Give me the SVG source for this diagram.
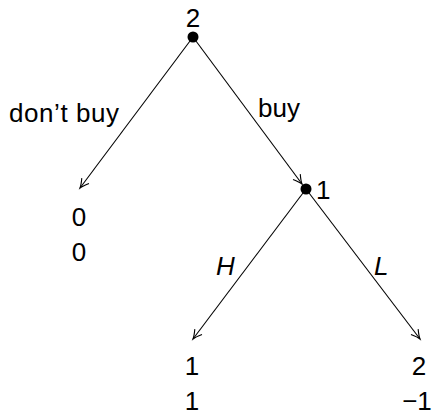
<svg xmlns="http://www.w3.org/2000/svg" width="437" height="415" viewBox="0 0 437 415">
<defs>
<style>
text{font-family:"Liberation Sans",Arial,sans-serif;font-size:26px;fill:#000}
.it{font-style:italic}
.e{stroke:#000;stroke-width:1.1;fill:none;marker-end:url(#ah)}
</style>
<marker id="ah" markerUnits="userSpaceOnUse" markerWidth="20" markerHeight="20" viewBox="-10 -10 20 20" refX="0" refY="0" orient="auto">
<path d="M-9,-4.5 Q-3,-0.8 0,0 Q-3,0.8 -9,4.5" fill="none" stroke="#000" stroke-width="1.1"/>
</marker>
</defs>
<rect width="437" height="415" fill="#fff"/>
<g id="connectors">
<line class="e" x1="193" y1="37" x2="80" y2="188"/>
<line class="e" x1="193" y1="37" x2="302" y2="184"/>
<line class="e" x1="306" y1="189" x2="193" y2="339"/>
<line class="e" x1="306" y1="189" x2="420" y2="339"/>
<text x="9" y="122" textLength="110" lengthAdjust="spacing">don’t buy</text>
<text x="258" y="117">buy</text>
<text class="it" x="216" y="275">H</text>
<text class="it" x="374" y="275">L</text>
</g>
<g id="n2">
<circle cx="193" cy="37" r="5.5" fill="#000"/>
<text x="193" y="27" text-anchor="middle">2</text>
</g>
<g id="n1">
<circle cx="306" cy="189" r="5.5" fill="#000"/>
<text x="316" y="199">1</text>
</g>
<g id="leaf-dont-buy">
<text x="79" y="226" text-anchor="middle">0</text>
<text x="79" y="261" text-anchor="middle">0</text>
</g>
<g id="leaf-H">
<text x="192" y="375" text-anchor="middle">1</text>
<text x="192" y="410" text-anchor="middle">1</text>
</g>
<g id="leaf-L">
<text x="419" y="375" text-anchor="middle">2</text>
<text x="417" y="410" text-anchor="middle">−1</text>
</g>
</svg>
